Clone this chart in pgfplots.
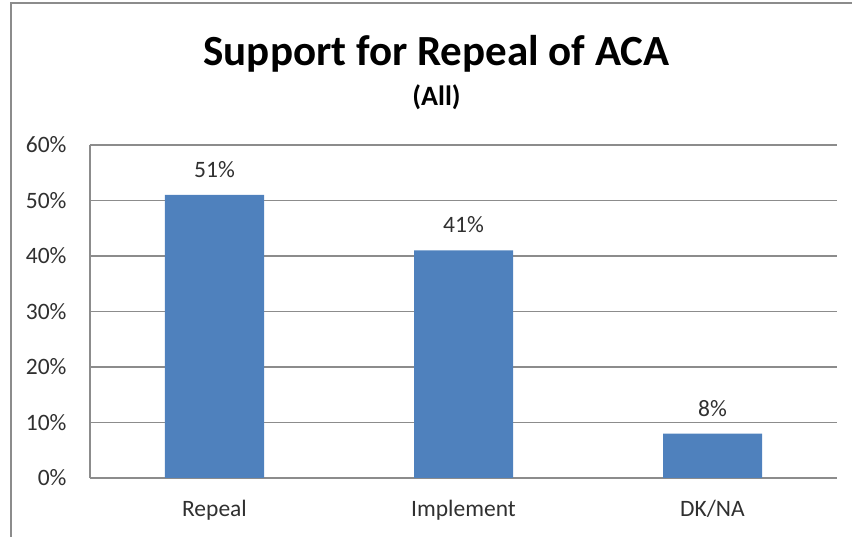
\documentclass[border=0pt]{standalone}
\usepackage{pgfplots}
\pgfplotsset{compat=1.18}
\usepackage{fontspec}
\setmainfont{Carlito}
\definecolor{barblue}{HTML}{4F81BD}
\definecolor{gridgray}{HTML}{8C8C8C}
\definecolor{txt}{HTML}{303030}
\begin{document}
\begin{tikzpicture}
\useasboundingbox (-90bp,-59bp) rectangle (762bp,478bp);
\draw[gridgray, line width=2bp] (-79bp,-80bp) -- (-79bp,475bp) -- (800bp,475bp);
\begin{axis}[
  at={(0,0)}, anchor=south west,
  scale only axis, width=747bp, height=333bp,
  xmin=-0.5, xmax=2.5, ymin=0, ymax=60,
  xtick=data, xticklabels={Repeal,Implement,DK/NA},
  ytick={0,10,20,30,40,50,60},
  yticklabels={0\%,10\%,20\%,30\%,40\%,50\%,60\%},
  major tick length=0pt,
  /pgf/number format/assume math mode=true,
  ymajorgrids, grid style={gridgray, line width=1.3bp},
  axis x line*=bottom, axis y line*=left,
  axis line style={gridgray, line width=1.3bp},
  ticklabel style={font=\fontsize{23.5bp}{28bp}\selectfont, text=txt},
  yticklabel style={xshift=-20bp},
  xticklabel style={yshift=-19bp},
  ybar, bar width=99bp,
  nodes near coords={\pgfmathprintnumber{\pgfplotspointmeta}\%},
  every node near coord/.append style={font=\fontsize{23.5bp}{28bp}\selectfont, text=txt, anchor=base, yshift=17.5bp},
  point meta=y,
]
\addplot[fill=barblue, draw=none] coordinates {(0,51) (1,41) (2,8)};
\end{axis}
\node[font=\fontsize{43bp}{50bp}\selectfont\bfseries, anchor=base] at (346.5bp,412bp) {Support for Repeal of ACA};
\node[font=\fontsize{28bp}{32bp}\selectfont\bfseries, anchor=center] at (346.5bp,381bp) {(All)};
\end{tikzpicture}
\end{document}
